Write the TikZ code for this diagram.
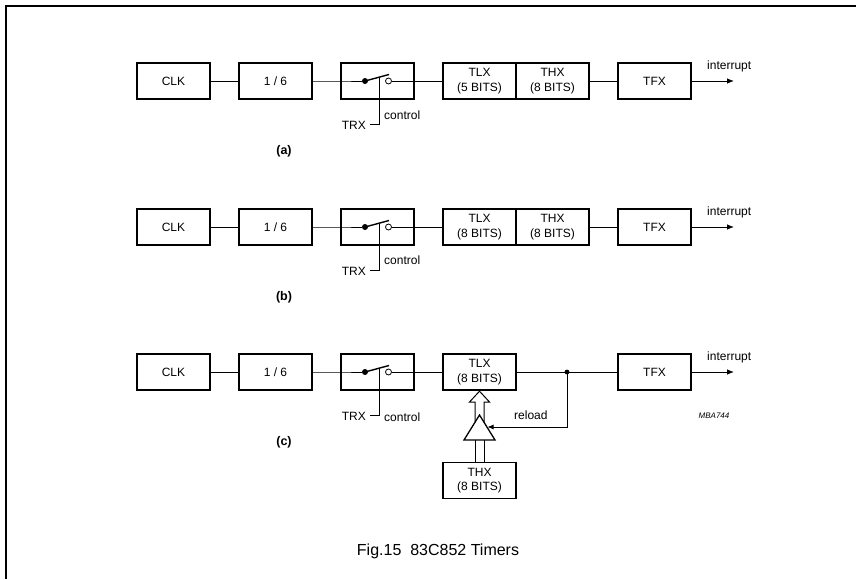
\documentclass[tikz,border=0pt]{standalone}
\usepackage{fontspec}
\setmainfont{Liberation Sans}
\usetikzlibrary{positioning,arrows.meta}

\tikzset{
    blk/.style={draw, line width=1.3pt, minimum width=73pt, minimum height=36pt, inner sep=0pt, outer sep=0pt, align=center, font=\fontsize{12}{14.5}\selectfont},
    wire/.style={line width=0.8pt},
    lbl/.style={font=\fontsize{12}{14}\selectfont, inner sep=0pt},
    tag/.style={font=\bfseries\fontsize{12.5}{14}\selectfont, inner sep=0pt},
    outarrow/.style={wire, -{Latex[length=7pt,width=5.5pt]}},
}

\begin{document}
\begin{tikzpicture}[x=1pt, y=-1pt]
    \useasboundingbox (0,0) rectangle (856,579);
    % frame
    \draw[line width=1.2pt] (6,579) -- (6,6) -- (856,6);

    % the three timer chains
    \foreach \r/\yy/\bits/\cy in {a/81/5/34, b/227/8/33, c/372/8/45} {
        \node[blk] (clk-\r) at (173.5,\yy) {CLK};
        \node[blk, right=29pt of clk-\r] (div-\r) {1 / 6};
        \node[blk, right=29pt of div-\r] (sw-\r) {};
        \node[blk, right=29pt of sw-\r] (tlx-\r) {TLX\\(\bits\ BITS)};
        \node[blk] (tfx-\r) at (654.5,\yy) {TFX};
        % switch
        \begin{scope}[shift={(sw-\r.center)}]
            \node[circle, fill, minimum size=6pt, inner sep=0pt] (pv-\r) at (-12.5,0) {};
            \node[circle, draw, wire, minimum size=6pt, inner sep=0pt] (rg-\r) at (11,0) {};
            \coordinate (lv-\r) at (11.5,-6.5);
            \coordinate (ct-\r) at (1.5,-3.8);
            \coordinate (hk-\r) at (-7.5,43);
            \node[lbl, anchor=east] (trx-\r) at (-11.5,44) {TRX};
            \node[lbl, anchor=west] (ctl-\r) at (6.5,\cy) {control};
        \end{scope}
        \coordinate (out-\r) at (734,\yy);
        \draw[wire] (clk-\r) -- (div-\r);
        \draw[wire] (div-\r) -- (sw-\r.west) -- (pv-\r);
        \draw[line width=1.4pt] (pv-\r.center) -- (lv-\r);
        \draw[wire] (rg-\r) -- (tlx-\r);
        \draw[wire] (ct-\r) |- (hk-\r);
        \draw[outarrow] (tfx-\r) -- (out-\r);
        \node[lbl, anchor=west] (int-\r) at (707,\yy-15) {interrupt};
        \node[tag] (tag-\r) at (284,\yy+70) {(\r)};
    }

    % THX beside TLX
    \foreach \r in {a,b} {
        \node[blk, right=0pt of tlx-\r] (thx-\r) {THX\\(8 BITS)};
        \draw[wire] (thx-\r) -- (tfx-\r);
    }

    % reload path
    \node[blk] (thx-c) at (479.5,480.5) {THX\\(8 BITS)};
    \coordinate (jn) at (567,372);
    \draw[wire] (tlx-c) -- (tfx-c);
    \fill (jn) circle (2.4);
    \begin{scope}[shift={(tlx-c.south)}]
        \coordinate (bf-top) at (0,25);
        \coordinate (bf-l) at (-15.5,50);
        \coordinate (bf-r) at (15.5,50);
        \coordinate (rl-tip) at (8,37);
        \draw[line width=1.3pt] (bf-top) -- (bf-l) -- (bf-r) -- cycle;
        \draw[line width=1pt] (-4.5,32.3) -- (-4.5,12) -- (-10,12) -- (0,1.2) -- (10,12) -- (4.5,12) -- (4.5,32.3);
    \end{scope}
    \draw[line width=1pt] ([xshift=-4.5pt]thx-c.north) -- ++(0,-23);
    \draw[line width=1pt] ([xshift=4.5pt]thx-c.north) -- ++(0,-23);
    \draw[wire, -{Latex[length=6pt,width=5pt]}] (jn) |- (rl-tip);
    \node[lbl, anchor=west] (rl-lbl) at (514,415) {reload};

    \node[font=\itshape\fontsize{8}{9}\selectfont, inner sep=0pt] (code) at (714,416) {MBA744};
    \node[font=\fontsize{16}{19}\selectfont, inner sep=0pt] (cap) at (438,551) {Fig.15~~83C852 Timers};
\end{tikzpicture}
\end{document}
